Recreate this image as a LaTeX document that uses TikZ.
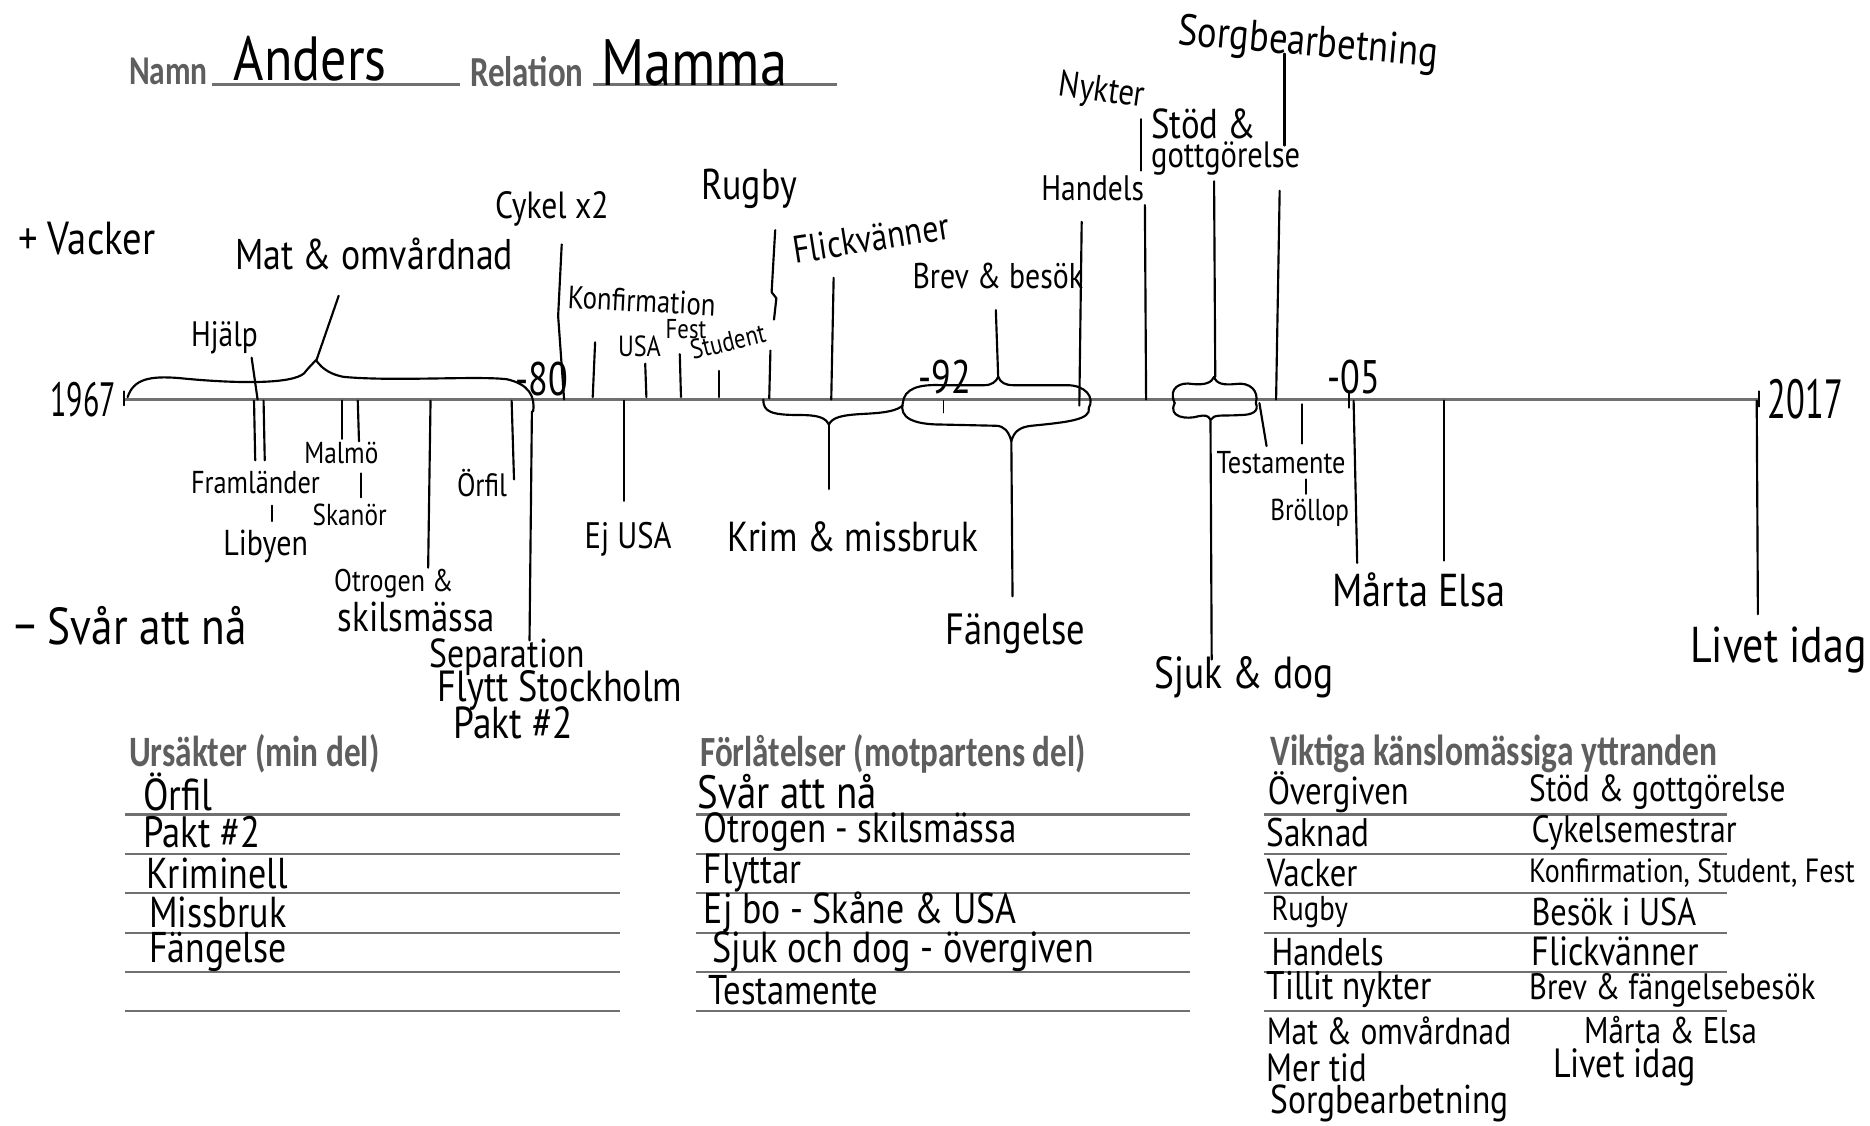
\documentclass[tikz,border=0pt]{standalone}
\usepackage{fontspec}
\usepackage{graphicx}
\newfontfamily\handfont{PT Sans}
\newfontfamily\formfont{Carlito}
\definecolor{formgray}{HTML}{5E5E5E}
\definecolor{linegray}{HTML}{707070}
\newcommand{\hw}[2]{\resizebox{#1pt}{!}{\scalebox{1}[1.2]{\handfont #2}}}
\newcommand{\hwv}[3]{\resizebox{#1pt}{!}{\scalebox{1}[#2]{\handfont #3}}}
\newcommand{\pr}[2]{\resizebox{#1pt}{!}{\scalebox{1}[1.3]{\formfont\bfseries #2}}}
\tikzset{
  lbl/.style={inner sep=0pt, anchor=west},
  pen/.style={line width=1.8pt, black, line cap=round, line join=round},
  rule/.style={line width=2pt, linegray},
  head/.style={inner sep=0pt, anchor=west, text=formgray},
}
\begin{document}
\begin{tikzpicture}[x=1pt,y=-1pt]
\fill[white] (0,0) rectangle (1568,944);
\useasboundingbox (0,0) rectangle (1568,944);

% ---------- header ----------
\node[head] (namn) at (108,60) {\pr{66}{Namn}};
\coordinate (ul1a) at (178,71); \coordinate (ul1b) at (386,71);
\draw[rule,line width=2.6pt] (ul1a) -- (ul1b);
\node[lbl] (anders) at (196,49) {\hw{128}{Anders}};
\node[head] (relation) at (394,60) {\pr{95}{Relation}};
\coordinate (ul2a) at (497,71); \coordinate (ul2b) at (702,71);
\draw[rule,line width=2.6pt] (ul2a) -- (ul2b);
\node[lbl] (mamma) at (504,53) {\hw{156}{Mamma}};

% ---------- scale labels ----------
\node[lbl] (vacker) at (15,200) {\hw{115}{+ Vacker}};
\node[lbl] (svar) at (12,525) {\hw{195}{− Svår att nå}};

% ---------- axis ----------
\coordinate (ax0) at (104,335); \coordinate (ax1) at (1476,335);
\draw[rule] (ax0) -- (ax1);
\node[lbl] (y1967) at (42,335) {\hwv{55}{1.6}{1967}};
\node[lbl] (y2017) at (1482,335) {\hwv{63}{1.6}{2017}};
\node[lbl] (y80) at (432,318) {\hwv{44}{1.3}{-80}};
\node[lbl] (y92) at (770,316) {\hwv{44}{1.3}{-92}};
\node[lbl] (y05) at (1113,316) {\hwv{44}{1.3}{-05}};
\coordinate (t1a) at (104,328); \coordinate (t1b) at (104,340);
\coordinate (t2a) at (1475,328); \coordinate (t2b) at (1475,341);
\coordinate (t3a) at (1131,330); \coordinate (t3b) at (1131,342);
\coordinate (t4a) at (791,336); \coordinate (t4b) at (791,346);
\draw[pen,line width=1.2pt] (t1a) -- (t1b) (t2a) -- (t2b) (t3a) -- (t3b) (t4a) -- (t4b);

% ---------- labels above axis ----------
\node[lbl] (mat) at (197,213) {\hw{233}{Mat \& omvårdnad}};
\node[lbl] (hjalp) at (160,283) {\hw{56}{Hjälp}};
\node[lbl] (cykel) at (415,175) {\hw{95}{Cykel x2}};
\node[lbl,rotate=-3] (konf) at (476,249) {\hw{124}{Konfirmation}};
\node[lbl] (usa) at (518,290) {\hw{36}{USA}};
\node[lbl] (fest) at (558,276) {\hw{34}{Fest}};
\node[lbl,rotate=14] (student) at (579,294) {\hw{64}{Student}};
\node[lbl] (rugby) at (588,158) {\hw{80}{Rugby}};
\node[lbl,rotate=9] (flick) at (665,210) {\hw{132}{Flickvänner}};
\node[lbl] (brev) at (765,231) {\hw{143}{Brev \& besök}};
\node[lbl] (handels) at (873,158) {\hw{86}{Handels}};
\node[lbl,rotate=-8] (nykter) at (888,72) {\hw{72}{Nykter}};
\node[lbl] (stod) at (965,104) {\hw{88}{Stöd \&}};
\node[lbl] (gott) at (965,133) {\hw{125}{gottgörelse}};
\node[lbl,rotate=-5] (sorg) at (988,28) {\hw{218}{Sorgbearbetning}};

% connectors above axis
\coordinate (hjA) at (211,300); \coordinate (hjB) at (216,335);
\coordinate (matA) at (265,303); \coordinate (matB) at (284,248);
\coordinate (cyA) at (471,205); \coordinate (cyM) at (468,265); \coordinate (cyB) at (473,335);
\coordinate (koA) at (499,287); \coordinate (koB) at (497,333);
\coordinate (usA) at (541,305); \coordinate (usB) at (542,333);
\coordinate (feA) at (570,297); \coordinate (feB) at (571,333);
\coordinate (stA) at (603,311); \coordinate (stB) at (603,333);
\coordinate (ruA) at (650,193); \coordinate (ruM) at (647,245); \coordinate (ruN) at (651,250); \coordinate (ruB) at (649,268);
\coordinate (ruC) at (646,294); \coordinate (ruD) at (645,334);
\coordinate (flA) at (699,233); \coordinate (flB) at (697,335);
\coordinate (brA) at (835,260); \coordinate (brB) at (837,317);
\coordinate (haA) at (907,186); \coordinate (haB) at (905,340);
\coordinate (nyA) at (957,100); \coordinate (nyB) at (957,143);
\coordinate (nyC) at (960,172); \coordinate (nyD) at (961,335);
\coordinate (sdA) at (1018,152); \coordinate (sdB) at (1019,316);
\coordinate (soA) at (1077,45); \coordinate (soB) at (1077,122);
\coordinate (soC) at (1073,160); \coordinate (soD) at (1070,335);
\draw[pen] (hjA) -- (hjB);
\draw[pen] (matA) -- (matB);
\draw[pen] (cyA) -- (cyM) -- (cyB);
\draw[pen] (koA) -- (koB);
\draw[pen] (usA) -- (usB);
\draw[pen] (feA) -- (feB);
\draw[pen] (stA) -- (stB);
\draw[pen] (ruA) -- (ruM) -- (ruN) -- (ruB);
\draw[pen] (ruC) -- (ruD);
\draw[pen] (flA) -- (flB);
\draw[pen] (brA) -- (brB);
\draw[pen] (haA) -- (haB);
\draw[pen] (nyA) -- (nyB);
\draw[pen] (nyC) -- (nyD);
\draw[pen] (sdA) -- (sdB);
\draw[pen] (soA) -- (soB);
\draw[pen] (soC) -- (soD);

% ---------- braces ----------
\draw[pen] (107,333) .. controls (112,318) and (125,315) .. (150,317)
  .. controls (200,322) and (245,322) .. (255,313)
  .. controls (259,308) and (262,305) .. (265,302)
  .. controls (268,306) and (273,313) .. (288,316)
  .. controls (330,320) and (400,315) .. (425,318)
  .. controls (443,322) and (449,332) .. (447,345);
\draw[pen] (640,335) .. controls (640,345) and (646,348) .. (670,348)
  .. controls (686,348) and (692,350) .. (695,356)
  .. controls (698,350) and (705,348) .. (725,347)
  .. controls (745,346) and (752,344) .. (757,340);
\draw[pen] (757,338) .. controls (758,326) and (770,322) .. (790,323)
  -- (825,323) .. controls (832,323) and (835,320) .. (837,316)
  .. controls (839,321) and (843,323) .. (850,323)
  -- (895,323) .. controls (910,323) and (918,333) .. (913,342);
\draw[pen] (757,338) .. controls (754,350) and (765,356) .. (790,356)
  -- (835,357) .. controls (842,357) and (846,362) .. (848,370)
  .. controls (850,362) and (855,358) .. (865,357)
  .. controls (895,354) and (915,352) .. (913,342);
\draw[pen] (985,338) .. controls (979,325) and (990,320) .. (1000,322)
  .. controls (1010,323) and (1016,321) .. (1018,316)
  .. controls (1020,322) and (1026,323) .. (1036,322)
  .. controls (1048,320) and (1056,328) .. (1053,338);
\draw[pen] (985,338) .. controls (979,350) and (995,352) .. (1005,349)
  .. controls (1010,348) and (1013,348) .. (1015,352)
  .. controls (1018,347) and (1025,349) .. (1040,348)
  .. controls (1050,348) and (1056,345) .. (1053,338);

% ---------- labels below axis ----------
\node[lbl] (framl) at (160,405) {\hw{108}{Framländer}};
\node[lbl] (libyen) at (187,458) {\hw{71}{Libyen}};
\node[lbl] (malmo) at (255,380) {\hw{62}{Malmö}};
\node[lbl] (skanor) at (262,432) {\hw{62}{Skanör}};
\node[lbl] (otrogen) at (280,489) {\hw{100}{Otrogen \&}};
\node[lbl] (skils) at (283,517) {\hw{132}{skilsmässa}};
\node[lbl] (orfil) at (383,405) {\hw{42}{Örfil}};
\node[lbl] (separ) at (360,551) {\hw{130}{Separation}};
\node[lbl] (flytt) at (367,579) {\hw{205}{Flytt Stockholm}};
\node[lbl] (pakt) at (380,606) {\hw{100}{Pakt \#2}};
\node[lbl] (ejusa) at (490,452) {\hw{73}{Ej USA}};
\node[lbl] (krim) at (610,450) {\hw{210}{Krim \& missbruk}};
\node[lbl] (fang) at (793,531) {\hw{117}{Fängelse}};
\node[lbl] (sjuk) at (968,568) {\hw{150}{Sjuk \& dog}};
\node[lbl] (testa) at (1020,388) {\hw{108}{Testamente}};
\node[lbl] (broll) at (1065,430) {\hw{66}{Bröllop}};
\node[lbl] (marta) at (1117,495) {\hw{145}{Mårta Elsa}};
\node[lbl] (livet) at (1417,545) {\hw{148}{Livet idag}};

% connectors below axis
\coordinate (frA) at (213,336); \coordinate (frB) at (214,386);
\coordinate (frC) at (221,336); \coordinate (frD) at (222,386);
\coordinate (liA) at (228,424); \coordinate (liB) at (228,437);
\coordinate (maA) at (287,336); \coordinate (maB) at (287,368);
\coordinate (maC) at (300,336); \coordinate (maD) at (301,370);
\coordinate (skA) at (303,397); \coordinate (skB) at (303,417);
\coordinate (otA) at (361,336); \coordinate (otB) at (359,476);
\coordinate (orA) at (429,336); \coordinate (orB) at (431,402);
\coordinate (seA) at (446,345); \coordinate (seB) at (444,537);
\coordinate (ejA) at (523,336); \coordinate (ejB) at (523,420);
\coordinate (krA) at (695,356); \coordinate (krB) at (695,410);
\coordinate (faA) at (848,370); \coordinate (faB) at (849,500);
\coordinate (sjA) at (1015,352); \coordinate (sjB) at (1016,553);
\coordinate (teA) at (1056,338); \coordinate (teB) at (1062,374);
\coordinate (bxA) at (1092,339); \coordinate (bxB) at (1092,372);
\coordinate (bxC) at (1095,402); \coordinate (bxD) at (1095,414);
\coordinate (mrA) at (1135,336); \coordinate (mrB) at (1138,472);
\coordinate (elA) at (1211,336); \coordinate (elB) at (1211,470);
\coordinate (lvA) at (1473,336); \coordinate (lvB) at (1474,515);
\draw[pen] (frA) -- (frB);
\draw[pen] (frC) -- (frD);
\draw[pen] (liA) -- (liB);
\draw[pen] (maA) -- (maB);
\draw[pen] (maC) -- (maD);
\draw[pen] (skA) -- (skB);
\draw[pen] (otA) -- (otB);
\draw[pen] (orA) -- (orB);
\draw[pen] (seA) -- (seB);
\draw[pen] (ejA) -- (ejB);
\draw[pen] (krA) -- (krB);
\draw[pen] (faA) -- (faB);
\draw[pen] (sjA) -- (sjB);
\draw[pen] (teA) -- (teB);
\draw[pen] (bxA) -- (bxB);
\draw[pen] (bxC) -- (bxD);
\draw[pen] (mrA) -- (mrB);
\draw[pen] (elA) -- (elB);
\draw[pen] (lvA) -- (lvB);

% ---------- tables ----------
\node[head] (h1) at (108,632) {\pr{210}{Ursäkter (min del)}};
\node[head] (h2) at (587,632) {\pr{323}{Förlåtelser (motpartens del)}};
\node[head] (h3) at (1065,632) {\pr{375}{Viktiga känslomässiga yttranden}};
\foreach \yy in {683,716,749,782,815,848} {
  \draw[rule,line width=1.8pt] (105,\yy) -- (520,\yy);
  \draw[rule,line width=1.8pt] (584,\yy) -- (998,\yy);
  \draw[rule,line width=1.8pt] (1060,\yy) -- (1448,\yy);
}

% column 1
\node[lbl] (c1a) at (120,664) {\hw{58}{Örfil}};
\node[lbl] (c1b) at (120,698) {\hw{98}{Pakt \#2}};
\node[lbl] (c1c) at (123,732) {\hw{118}{Kriminell}};
\node[lbl] (c1d) at (125,765) {\hw{115}{Missbruk}};
\node[lbl] (c1e) at (125,798) {\hw{115}{Fängelse}};
% column 2
\node[lbl] (c2a) at (585,664) {\hw{150}{Svår att nå}};
\node[lbl] (c2b) at (590,698) {\hw{262}{Otrogen - skilsmässa}};
\node[lbl] (c2c) at (590,732) {\hw{82}{Flyttar}};
\node[lbl] (c2d) at (590,765) {\hw{262}{Ej bo - Skåne \& USA}};
\node[lbl] (c2e) at (597,798) {\hw{320}{Sjuk och dog - övergiven}};
\node[lbl] (c2f) at (594,830) {\hw{142}{Testamente}};
% column 3 left
\node[lbl] (c3a) at (1063,664) {\hw{118}{Övergiven}};
\node[lbl] (c3b) at (1062,698) {\hw{86}{Saknad}};
\node[lbl] (c3c) at (1062,732) {\hw{76}{Vacker}};
\node[lbl] (c3d) at (1066,765) {\hw{64}{Rugby}};
\node[lbl] (c3e) at (1066,798) {\hw{94}{Handels}};
\node[lbl] (c3f) at (1062,830) {\hw{138}{Tillit nykter}};
\node[lbl] (c3g) at (1062,864) {\hw{205}{Mat \& omvårdnad}};
\node[lbl] (c3h) at (1062,895) {\hw{84}{Mer tid}};
\node[lbl] (c3i) at (1065,925) {\hw{200}{Sorgbearbetning}};
% column 3 right
\node[lbl] (c4a) at (1282,664) {\hw{215}{Stöd \& gottgörelse}};
\node[lbl] (c4b) at (1284,698) {\hw{172}{Cykelsemestrar}};
\node[lbl] (c4c) at (1282,732) {\hw{273}{Konfirmation, Student, Fest}};
\node[lbl] (c4d) at (1284,765) {\hw{138}{Besök i USA}};
\node[lbl] (c4e) at (1284,798) {\hw{140}{Flickvänner}};
\node[lbl] (c4f) at (1282,830) {\hw{240}{Brev \& fängelsebesök}};
\node[lbl] (c4g) at (1328,864) {\hw{145}{Mårta \& Elsa}};
\node[lbl] (c4h) at (1302,895) {\hw{120}{Livet idag}};
\end{tikzpicture}
\end{document}
